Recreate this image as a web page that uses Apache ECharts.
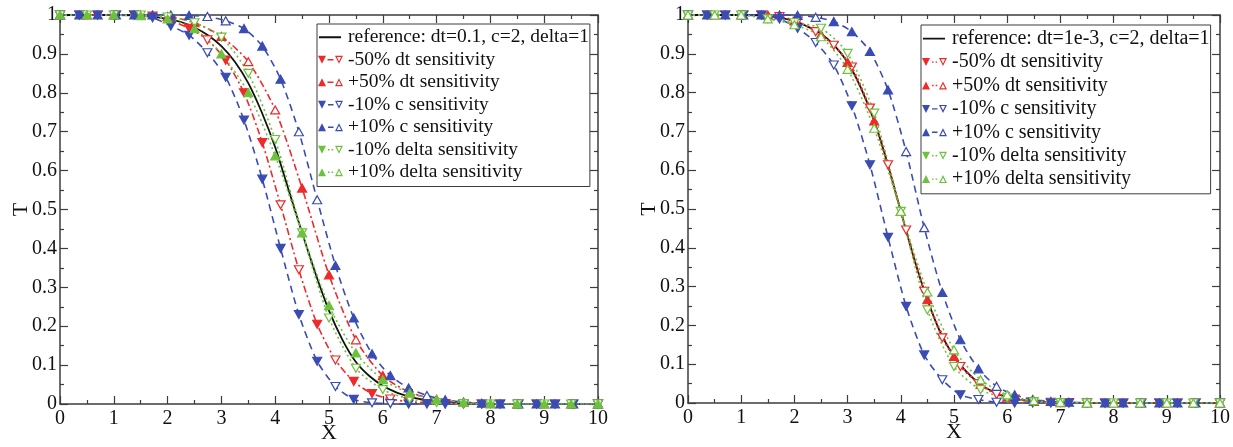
<!DOCTYPE html>
<html>
<head>
<meta charset="utf-8">
<script src="https://cdn.jsdelivr.net/npm/echarts@6/dist/echarts.min.js"></script>
<style>
  html, body { margin: 0; padding: 0; background: #fff; }
  #main { width: 1233px; height: 447px; }
</style>
</head>
<body>
<div id="main"></div>
<script>
// x positions: reference curve, symbols every ~0.34 (dt / c sets), symbols every 0.5 (delta sets)
const xRef = [0, 0.5, 1, 1.5, 2, 2.25, 2.5, 2.75, 3, 3.25, 3.5, 3.75, 4, 4.25, 4.5, 4.75, 5, 5.25, 5.5, 5.75, 6, 6.25, 6.5, 6.75, 7, 7.5, 8, 9, 10]
const xC = [0, 0.36, 0.70, 1.04, 1.38, 1.72, 2.06, 2.40, 2.74, 3.08, 3.42, 3.76, 4.10, 4.44, 4.78, 5.12, 5.46, 5.80, 6.14, 6.48, 6.82, 7.16, 7.50, 7.84, 8.18, 8.52, 8.86, 9.20, 9.54, 10]
const xD = [0, 0.5, 1, 1.5, 2, 2.5, 3, 3.5, 4, 4.5, 5, 5.5, 6, 6.5, 7, 7.5, 8, 8.5, 9, 9.5, 10]

// left panel (dt = 0.1)
const leftRef = [1, 1, 1, 0.999, 0.99, 0.982, 0.968, 0.948, 0.92, 0.88, 0.825, 0.75, 0.66, 0.55, 0.44, 0.335, 0.24, 0.165, 0.108, 0.072, 0.047, 0.03, 0.019, 0.011, 0.006, 0.002, 0.0005, 0, 0]
const leftDtMinus = [1, 1, 1, 1, 1, 0.997, 0.985, 0.966, 0.936, 0.884, 0.80, 0.672, 0.512, 0.345, 0.205, 0.113, 0.058, 0.027, 0.013, 0.006, 0.003, 0.001, 0, 0, 0, 0, 0, 0, 0, 0]
const leftDtPlus = [1, 1, 1, 1, 0.996, 0.98, 0.945, 0.88, 0.756, 0.555, 0.332, 0.165, 0.073, 0.03, 0.012, 0.004, 0.001, 0, 0, 0, 0]
const leftCMinus = [1, 1, 1, 1, 1, 0.993, 0.972, 0.948, 0.903, 0.84, 0.73, 0.578, 0.40, 0.23, 0.11, 0.045, 0.012, 0.003, 0.001, 0, 0, 0, 0, 0, 0, 0, 0, 0, 0, 0]
const leftCPlus = [1, 1, 1, 1, 1, 1, 1, 0.999, 0.996, 0.985, 0.965, 0.92, 0.835, 0.70, 0.525, 0.356, 0.221, 0.129, 0.073, 0.041, 0.022, 0.011, 0.005, 0.002, 0, 0, 0, 0, 0, 0]
const leftDeltaMinus = [1, 1, 1, 1, 0.995, 0.98, 0.943, 0.85, 0.68, 0.44, 0.221, 0.092, 0.037, 0.013, 0.004, 0.001, 0, 0, 0, 0, 0]
const leftDeltaPlus = [1, 1, 1, 0.998, 0.99, 0.965, 0.90, 0.80, 0.638, 0.44, 0.253, 0.131, 0.0625, 0.028, 0.011, 0.004, 0.001, 0, 0, 0, 0]

// right panel (dt = 1e-3)
const rightRef = [1, 1, 1, 0.998, 0.985, 0.97, 0.952, 0.922, 0.878, 0.812, 0.727, 0.618, 0.494, 0.372, 0.266, 0.18, 0.12, 0.078, 0.048, 0.028, 0.015, 0.008, 0.004, 0.002, 0.001, 0, 0, 0, 0]
const rightDtMinus = [1, 1, 1, 1, 1, 0.996, 0.984, 0.957, 0.922, 0.866, 0.76, 0.614, 0.446, 0.288, 0.168, 0.094, 0.05, 0.022, 0.01, 0.004, 0.002, 0.001, 0, 0, 0, 0, 0, 0, 0, 0]
const rightDtPlus = [1, 1, 1, 1, 0.985, 0.95, 0.878, 0.727, 0.494, 0.266, 0.12, 0.048, 0.015, 0.004, 0.001, 0, 0, 0, 0, 0, 0]
const rightCMinus = [1, 1, 1, 1, 1, 0.99, 0.966, 0.929, 0.871, 0.766, 0.614, 0.427, 0.249, 0.124, 0.06, 0.021, 0.009, 0.002, 0, 0, 0, 0, 0, 0, 0, 0, 0, 0, 0, 0]
const rightCPlus = [1, 1, 1, 1, 1, 1, 0.999, 0.994, 0.983, 0.957, 0.906, 0.807, 0.648, 0.452, 0.285, 0.163, 0.088, 0.043, 0.021, 0.009, 0.004, 0.002, 0.001, 0, 0, 0, 0, 0, 0, 0]
const rightDeltaMinus = [1, 1, 1, 0.99, 0.98, 0.966, 0.901, 0.747, 0.494, 0.24, 0.094, 0.034, 0.013, 0.003, 0.001, 0, 0, 0, 0, 0, 0]
const rightDeltaPlus = [1, 1, 1, 0.99, 0.975, 0.944, 0.86, 0.708, 0.494, 0.286, 0.137, 0.06, 0.021, 0.006, 0.002, 0, 0, 0, 0, 0, 0]

const nameDtMinus = '-50% dt sensitivity'
const nameDtPlus = '+50% dt sensitivity'
const nameCMinus = '-10% c sensitivity'
const nameCPlus = '+10% c sensitivity'
const nameDeltaMinus = '-10% delta sensitivity'
const nameDeltaPlus = '+10% delta sensitivity'
const nameRefLeft = 'reference: dt=0.1, c=2, delta=1'
const nameRefRight = 'reference: dt=1e-3, c=2, delta=1'

const font = 'Liberation Serif'
const frame = '#3c3c3c'
const red = '#ee2a2a'
const blue = '#3a4cb4'
const green = '#6cc23c'

// legend sample icons: filled symbol, line piece, open symbol
const lineBits = {
  dash: 'M10 3.3 L15.5 3.3 L15.5 4.7 L10 4.7 Z',
  dashdot: 'M9.5 3.3 L15.5 3.3 L15.5 4.7 L9.5 4.7 Z',
  dot: 'M10 3.3 L11.6 3.3 L11.6 4.7 L10 4.7 Z M13.6 3.3 L15.2 3.3 L15.2 4.7 L13.6 4.7 Z'
}
const iconDown = (bit) => 'path://M0 0 L8 0 L4 8 Z M17 0 L25 0 L21 8 Z M18.9 1.2 L21 5.4 L23.1 1.2 Z ' + lineBits[bit]
const iconUp = (bit) => 'path://M0 8 L8 8 L4 0 Z M17 8 L25 8 L21 0 Z M18.9 6.8 L21 2.6 L23.1 6.8 Z ' + lineBits[bit]
const iconRef = 'path://M0 0 L0 0 Z M25 8 L25 8 Z M1 3.1 L23 3.1 L23 4.9 L1 4.9 Z'

const xAxes = (g) => {
  const base = {
    gridIndex: g, type: 'value', min: 0, max: 10, interval: 1,
    axisLine: { show: true, onZero: false, lineStyle: { color: frame, width: 1.5 } },
    axisTick: { show: true, inside: true, length: 8, lineStyle: { color: frame, width: 1.2 } },
    minorTick: { show: true, splitNumber: 2, length: 4, lineStyle: { color: frame, width: 1.2 } },
    splitLine: { show: false }
  }
  return [
    {
      ...base, position: 'bottom', name: 'X', nameLocation: 'middle', nameGap: 18, nameMoveOverlap: false,
      nameTextStyle: { fontFamily: font, fontSize: 22, color: '#111' },
      axisLabel: { fontFamily: font, fontSize: 20, color: '#111', margin: 5 }
    },
    { ...base, position: 'top', axisLabel: { show: false } }
  ]
}
const yAxes = (g) => {
  const base = {
    gridIndex: g, type: 'value', min: 0, max: 1, interval: 0.1,
    axisLine: { show: true, onZero: false, lineStyle: { color: frame, width: 1.5 } },
    axisTick: { show: true, inside: true, length: 8, lineStyle: { color: frame, width: 1.2 } },
    minorTick: { show: true, splitNumber: 2, length: 4, lineStyle: { color: frame, width: 1.2 } },
    splitLine: { show: false }
  }
  return [
    {
      ...base, position: 'left', name: 'T', nameLocation: 'middle', nameGap: 28, nameRotate: 90, nameMoveOverlap: false,
      nameTextStyle: { fontFamily: font, fontSize: 22, color: '#111' },
      axisLabel: { fontFamily: font, fontSize: 20, color: '#111', margin: 3 }
    },
    { ...base, position: 'right', axisLabel: { show: false } }
  ]
}

// one symbol series; open = indexes drawn as hollow, hollow = all hollow
const markSeries = (g, name, xs, ys, color, down, dash, open, hollow) => ({
  name, type: 'line', xAxisIndex: 2 * g, yAxisIndex: 2 * g,
  data: xs.map((x, i) => (hollow || open.includes(i))
    ? { value: [x, ys[i]], itemStyle: { color: '#fff' } }
    : [x, ys[i]]),
  symbol: 'triangle', symbolSize: [9, 8], symbolRotate: down ? 180 : 0,
  smooth: 0.25,
  lineStyle: { color, width: 1.6, type: dash },
  itemStyle: { color, borderColor: color, borderWidth: 1.2 },
  emphasis: { disabled: true }
})
const refSeries = (g, name, ys) => ({
  name, type: 'line', xAxisIndex: 2 * g, yAxisIndex: 2 * g,
  data: xRef.map((x, i) => [x, ys[i]]),
  symbol: 'none', smooth: 0.3,
  lineStyle: { color: '#111', width: 1.8 },
  itemStyle: { color: '#111' },
  emphasis: { disabled: true }
})

const dashed = [7, 5]
const dashDot = [7, 3, 2, 3]
const dotted = [2, 3]

const legendBox = (left, top, size, rowH, items) => ({
  left, top, orient: 'vertical', selectedMode: false,
  itemWidth: 25, itemHeight: 8, itemGap: 0, padding: [2, 1, 3, 1],
  backgroundColor: '#fff', borderColor: frame, borderWidth: 1, borderRadius: 0,
  itemStyle: { borderWidth: 0 },
  textStyle: { fontFamily: font, fontSize: size, color: '#111', lineHeight: rowH },
  data: items
})

const chart = echarts.init(document.getElementById('main'))
chart.setOption({
  animation: false,
  grid: [
    { left: 60, top: 15, width: 538, height: 389, outerBoundsMode: 'none', containLabel: false },
    { left: 688, top: 15, width: 532, height: 388, outerBoundsMode: 'none', containLabel: false }
  ],
  xAxis: [...xAxes(0), ...xAxes(1)],
  yAxis: [...yAxes(0), ...yAxes(1)],
  legend: [
    legendBox(317, 24, 19.5, 22.5, [
      { name: nameRefLeft, icon: iconRef },
      { name: nameDtMinus, icon: iconDown('dashdot') },
      { name: nameDtPlus, icon: iconUp('dashdot') },
      { name: nameCMinus, icon: iconDown('dash') },
      { name: nameCPlus, icon: iconUp('dash') },
      { name: nameDeltaMinus, icon: iconDown('dot') },
      { name: nameDeltaPlus, icon: iconUp('dot') }
    ]),
    legendBox(921, 25, 20, 23.4, [
      { name: nameRefRight, icon: iconRef },
      { name: nameDtMinus, icon: iconDown('dot') },
      { name: nameDtPlus, icon: iconUp('dot') },
      { name: nameCMinus, icon: iconDown('dash') },
      { name: nameCPlus, icon: iconUp('dash') },
      { name: nameDeltaMinus, icon: iconDown('dot') },
      { name: nameDeltaPlus, icon: iconUp('dot') }
    ])
  ],
  series: [
    refSeries(0, nameRefLeft, leftRef),
    markSeries(0, nameDtMinus, xC, leftDtMinus, red, true, dashDot, [8, 12, 13, 15, 18], false),
    markSeries(0, nameDtPlus, xD, leftDtPlus, red, false, dashDot, [7, 8, 11], false),
    markSeries(0, nameCMinus, xC, leftCMinus, blue, true, dashed, [8, 15, 17, 18], false),
    markSeries(0, nameCPlus, xC, leftCPlus, blue, false, dashed, [8, 9, 13, 14, 20], false),
    markSeries(0, nameDeltaMinus, xD, leftDeltaMinus, green, true, dotted, [], true),
    markSeries(0, nameDeltaPlus, xD, leftDeltaPlus, green, false, dotted, [], false),

    refSeries(1, nameRefRight, rightRef),
    markSeries(1, nameDtMinus, xC, rightDtMinus, red, true, dotted, [], true),
    markSeries(1, nameDtPlus, xD, rightDtPlus, red, false, dotted, [], false),
    markSeries(1, nameCMinus, xC, rightCMinus, blue, true, dashed, [7, 8, 14, 16, 17], false),
    markSeries(1, nameCPlus, xC, rightCPlus, blue, false, dashed, [7, 12, 13, 17], false),
    markSeries(1, nameDeltaMinus, xD, rightDeltaMinus, green, true, dotted, [], true),
    markSeries(1, nameDeltaPlus, xD, rightDeltaPlus, green, false, dotted, [], true)
  ]
})
</script>
</body>
</html>
